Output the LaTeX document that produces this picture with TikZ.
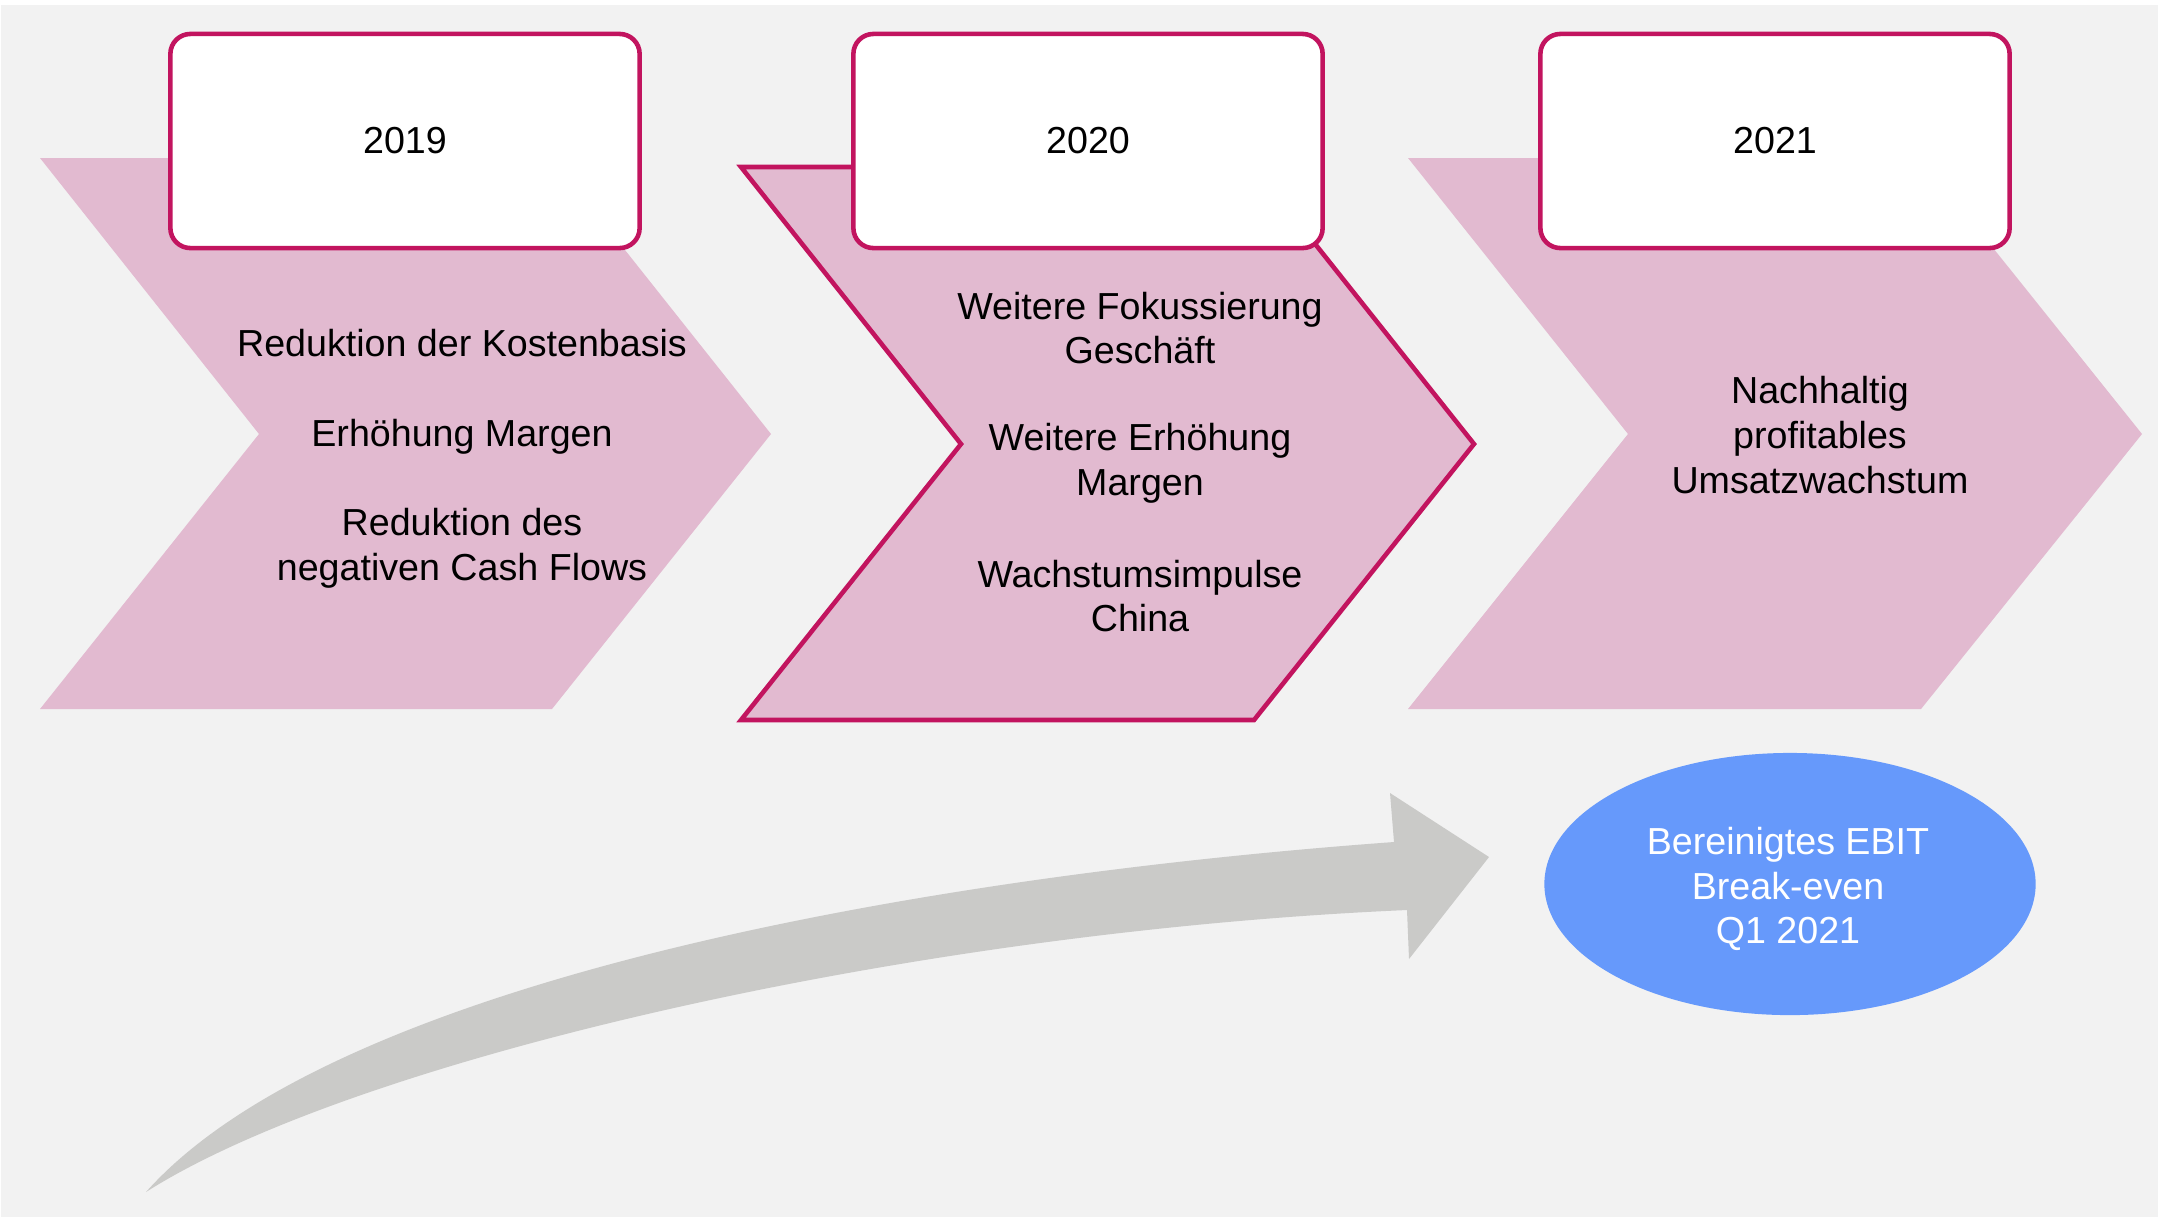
\documentclass[tikz,border=0pt]{standalone}
\usepackage{fontspec}
\setmainfont{Liberation Sans}
\usepackage{tikz}
\usetikzlibrary{positioning, shapes.geometric}

\definecolor{bggray}{HTML}{F2F2F2}
\definecolor{chevpink}{HTML}{E2BAD0}
\definecolor{berry}{HTML}{C2145F}
\definecolor{arrowgray}{HTML}{CACAC8}
\definecolor{ebitblue}{HTML}{6699FB}

\begin{document}
\begin{tikzpicture}[x=0.01cm, y=-0.01cm,
    every node/.style={font=\fontsize{10.7}{12.7}\selectfont},
    yearbox/.style={draw=berry, line width=1.3pt, fill=white, rounded corners=0.2cm,
                    minimum width=4.69cm, minimum height=2.14cm},
    item/.style={align=center, inner sep=1pt},
    chev/.style={fill=chevpink}]
    \useasboundingbox (0,0) rectangle (2158,1217);
    \fill[bggray] (1,5) rectangle (2158,1217);

    % chevrons
    \fill[chev] (40,158) -- (552,158) -- (771,434) -- (552,709) -- (40,709) -- (259,434) -- cycle;
    \draw[chev, draw=berry, line width=1.3pt] (741,167) -- (1254,167) -- (1474,444)
      -- (1254,720) -- (741,720) -- (961,444) -- cycle;
    \fill[chev] (1408,158) -- (1921,158) -- (2142,434) -- (1921,709) -- (1408,709) -- (1628,434) -- cycle;

    % years
    \node[yearbox] (y19) at (405,141) {2019};
    \node[yearbox] (y20) at (1088,141) {2020};
    \node[yearbox] (y21) at (1775,141) {2021};

    \node[item] (k1) at (462,343) {Reduktion der Kostenbasis};
    \node[item] (k2) at (462,437) {Erhöhung Margen};
    \node[item] (k3) at (462,548) {Reduktion des\\negativen Cash Flows};

    \node[item] (f1) at (1140,328) {Weitere Fokussierung\\Geschäft};
    \node[item] (f2) at (1140,463) {Weitere Erhöhung\\Margen};
    \node[item] (f3) at (1140,596) {Wachstumsimpulse\\China};

    \node[item] (n1) at (1820,435) {Nachhaltig\\profitables\\Umsatzwachstum};

    % curved arrow
    \coordinate (tail) at (146,1192);
    \coordinate (up) at (1394,842);
    \coordinate (lo) at (1407,910);
    \fill[arrowgray] (tail) .. controls (330,985) and (900,878) .. (up)
      -- (1390,793) -- (1489,857) -- (1409,959) -- (lo)
      .. controls (900,932) and (350,1062) .. (tail) -- cycle;

    \node[ellipse, fill=ebitblue, inner sep=0pt,
          minimum width=4.91cm, minimum height=2.62cm] (ebit) at (1790,884) {};
    \node[item, text=white] (ebittxt) at (1788,889) {Bereinigtes EBIT\\Break-even\\Q1 2021};
\end{tikzpicture}
\end{document}
